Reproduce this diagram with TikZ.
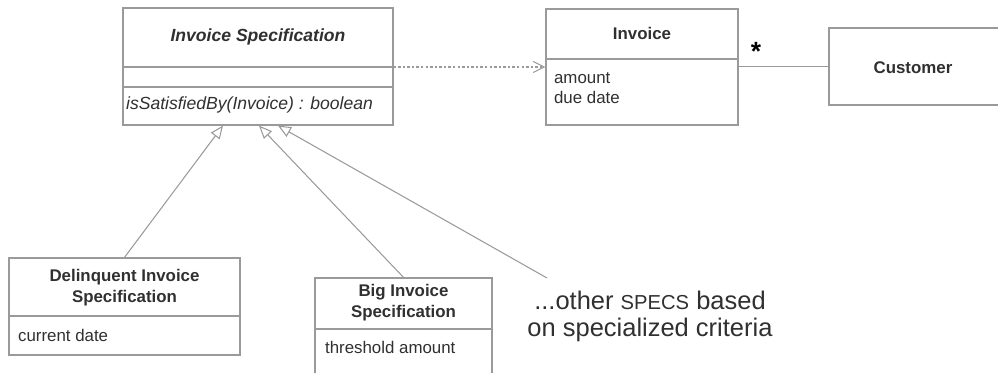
\documentclass[tikz,border=0pt]{standalone}
\usepackage{fontspec}
\setmainfont{Liberation Sans}
\usepackage{tikz}
\usetikzlibrary{arrows.meta,calc}
\definecolor{umlline}{HTML}{9A9A9A}
\definecolor{umltext}{HTML}{303030}

\begin{document}
\begin{tikzpicture}[
    umlbox/.style={rectangle,draw=umlline,line width=0.7pt,inner sep=0pt},
    title/.style={font=\fontsize{9.6}{12}\selectfont\bfseries,text=umltext,align=center,inner sep=1pt},
    attr/.style={font=\fontsize{9.6}{11.5}\selectfont,text=umltext,align=left,anchor=west,inner sep=1pt},
    divider/.style={draw=umlline,line width=0.7pt},
    inherit/.style={draw=umlline,line width=0.6pt,
                    -{Triangle[open,length=2.6mm,width=2.2mm,fill=white]}},
    depend/.style={draw=umlline,line width=0.6pt,dash pattern=on 1.4pt off 1.2pt,
                   -{Straight Barb[length=2.2mm,width=2.2mm]}},
    assoc/.style={draw=umlline,line width=0.6pt}
]
\useasboundingbox (0,0) rectangle (19.96,-7.44);

\node[umlbox,minimum width=5.40cm,minimum height=2.34cm] (spec)  at (5.16,-1.33) {};
\node[umlbox,minimum width=3.84cm,minimum height=2.32cm] (inv)   at (12.84,-1.34) {};
\node[umlbox,minimum width=3.44cm,minimum height=1.54cm] (cust)  at (18.30,-1.33) {};
\node[umlbox,minimum width=4.62cm,minimum height=1.94cm] (delin) at (2.49,-6.13) {};
\node[umlbox,minimum width=3.54cm,minimum height=2.04cm] (big)   at (8.07,-6.58) {};

\draw[divider] (spec.west |- 0,-1.34) -- (spec.east |- 0,-1.34);
\draw[divider] (spec.west |- 0,-1.74) -- (spec.east |- 0,-1.74);
\draw[divider] (inv.west |- 0,-1.18) -- (inv.east |- 0,-1.18);
\draw[divider] (delin.west |- 0,-6.32) -- (delin.east |- 0,-6.32);
\draw[divider] (big.west |- 0,-6.58) -- (big.east |- 0,-6.58);

\node[title] (spectitle)  at (5.16,-0.74) {\fontsize{10}{12}\selectfont\itshape Invoice Specification};
\node[attr]  (specop)     at (2.48,-2.10) {\fontsize{10}{12}\selectfont\itshape isSatisfiedBy(Invoice) : boolean};
\node[title] (invtitle)   at (12.84,-0.66) {Invoice};
\node[attr]  (invattr)    at (11.04,-1.76) {amount\\due date};
\node[title] (custtitle)  at (18.26,-1.36) {Customer};
\node[title] (delintitle) at (2.49,-5.76) {Delinquent Invoice\\Specification};
\node[attr]  (delinattr)  at (0.32,-6.70) {current date};
\node[title] (bigtitle)   at (8.07,-6.06) {Big Invoice\\Specification};
\node[attr]  (bigattr)    at (6.46,-6.94) {threshold amount};

\node[font=\fontsize{14.5}{15.3}\selectfont,text=umltext,align=center] (others) at (13.0,-6.32)
    {...other {\fontsize{11.5}{13}\selectfont SPECS} based\\on specialized criteria};
\node[font=\fontsize{15}{15}\selectfont\bfseries,text=black,inner sep=0pt] (mult) at (15.12,-1.02) {*};

\coordinate (otherend) at (10.94,-5.56);

\draw[inherit] (delin.north) -- ($(spec.south)+(-0.70,0)$);
\draw[inherit] (big.north) -- ($(spec.south)+(0.02,0)$);
\draw[inherit] (otherend) -- ($(spec.south)+(0.40,0)$);
\draw[depend] (spec.east |- 0,-1.34) -- (inv.west |- 0,-1.34);
\draw[assoc] (inv.east |- 0,-1.33) -- (cust.west |- 0,-1.33);
\end{tikzpicture}
\end{document}
